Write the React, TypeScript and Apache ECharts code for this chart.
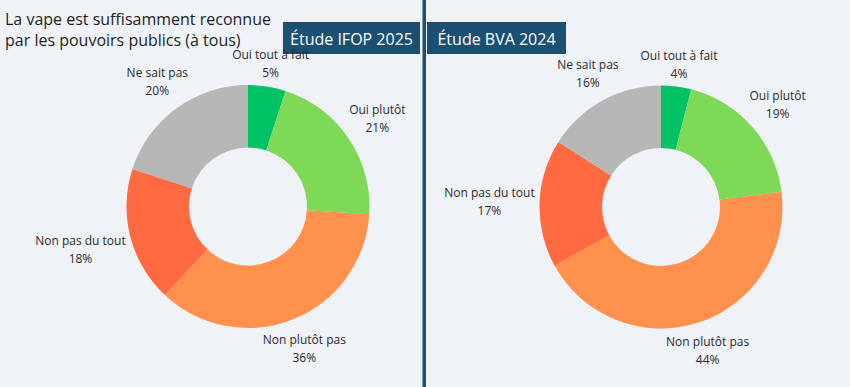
import React, { useEffect, useRef } from 'react';
import * as echarts from 'echarts';

const categories = ['Oui tout à fait', 'Oui plutôt', 'Non plutôt pas', 'Non pas du tout', 'Ne sait pas'];
const ifop2025 = [5, 21, 36, 18, 20];
const bva2024 = [4, 19, 44, 17, 16];
const sliceColors = ['#00c164', '#7ed957', '#ff914d', '#ff6a41', '#b7b7b7'];
const studyTitles = ['Étude IFOP 2025', 'Étude BVA 2024'];
const chartTitle = 'La vape est suffisamment reconnue\npar les pouvoirs publics (à tous)';

const W = 850;
const H = 387;
const FONT = "'Open Sans', 'Noto Sans', sans-serif";
const BG = '#eff2f7';
const NAVY = '#1b4f73';
const centers: number[][] = [[248, 206.5], [661, 207]];
const R_OUT = 121.5;
const R_IN = 59;
const GAP = 4.5;
const boxes = [
  { x: 283, y: 22, w: 137, h: 32 },
  { x: 427, y: 22, w: 139, h: 32 },
];

function makeSeries(values: number[], s: number) {
  const total = values.reduce((a, b) => a + b, 0);
  const [cx, cy] = centers[s];
  return {
    type: 'pie',
    center: [cx, cy],
    radius: [R_IN, R_OUT],
    startAngle: 90,
    clockwise: true,
    avoidLabelOverlap: false,
    itemStyle: { borderWidth: 0 },
    emphasis: { disabled: true },
    label: {
      show: true,
      position: 'outside',
      formatter: (p: any) => `${p.name}\n${p.value}%`,
      fontFamily: FONT,
      fontSize: 12,
      lineHeight: 18,
      color: '#2b2b2b',
    },
    labelLine: { show: false, length: 0, length2: 0 },
    labelLayout: (params: any) => {
      const i = params.dataIndex;
      let cum = 0;
      for (let k = 0; k < i; k++) cum += values[k];
      const mid = ((cum + values[i] / 2) / total) * Math.PI * 2;
      const ux = Math.sin(mid);
      const uy = -Math.cos(mid);
      const w = params.labelRect.width;
      const h = params.labelRect.height;
      const extent = Math.abs(ux) * (w / 2) + Math.abs(uy) * (h * 0.35);
      const r = R_OUT + GAP + extent;
      return { x: cx + ux * r, y: cy + uy * r, align: 'center', verticalAlign: 'middle' };
    },
    data: categories.map((name, i) => ({
      name,
      value: values[i],
      itemStyle: { color: sliceColors[i] },
    })),
  };
}

export default function App() {
  const ref = useRef<HTMLDivElement>(null);
  useEffect(() => {
    document.body.style.margin = '0';
    document.body.style.background = BG;
    if (!ref.current) return;
    const chart = echarts.init(ref.current, undefined, { renderer: 'svg' });
    chart.setOption({
      animation: false,
      backgroundColor: BG,
      title: {
        text: chartTitle,
        left: 5,
        top: 8,
        padding: 0,
        textStyle: {
          fontFamily: FONT,
          fontSize: 16,
          lineHeight: 21,
          fontWeight: 'normal',
          color: '#1e1e1e',
        },
      },
      graphic: [
        {
          type: 'rect',
          shape: { x: 422.5, y: 0, width: 3.5, height: H },
          style: { fill: NAVY },
          silent: true,
        },
        ...boxes.flatMap((b, i) => [
          {
            type: 'rect',
            shape: { x: b.x, y: b.y, width: b.w, height: b.h },
            style: { fill: NAVY },
            silent: true,
          },
          {
            type: 'text',
            x: b.x + b.w / 2,
            y: b.y + b.h / 2 + 1,
            style: {
              text: studyTitles[i],
              fill: '#ffffff',
              font: `16px ${FONT}`,
              textAlign: 'center',
              textVerticalAlign: 'middle',
            },
            silent: true,
          },
        ]),
      ],
      series: [makeSeries(ifop2025, 0), makeSeries(bva2024, 1)],
    });
    return () => chart.dispose();
  }, []);
  return <div ref={ref} style={{ width: W, height: H }} />;
}
